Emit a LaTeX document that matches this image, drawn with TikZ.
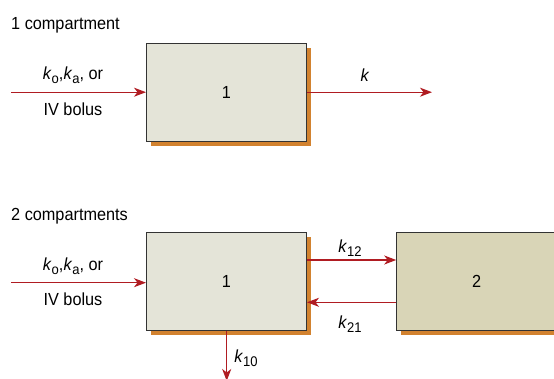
\documentclass[tikz,border=0pt]{standalone}
\usepackage{fontspec}
\setmainfont[FakeStretch=0.93]{Liberation Sans}
\usetikzlibrary{arrows.meta,shadows}
\definecolor{boxonecol}{HTML}{E4E4D8}
\definecolor{boxtwocol}{HTML}{D9D5B7}
\definecolor{shadowcol}{HTML}{D2822F}
\definecolor{arrowcol}{HTML}{B01C22}
\newcommand{\ksub}[1]{\textit{k}\raisebox{-0.45ex}{\fontsize{14}{16}\selectfont #1}}
\begin{document}
\begin{tikzpicture}[x=1pt,y=-1pt,
  font=\fontsize{17.5}{20}\selectfont,
  comp/.style={draw=black!80, line width=1pt, minimum width=160pt, minimum height=98pt, inner sep=0pt,
    drop shadow={shadow xshift=4.5pt, shadow yshift=-5pt, fill=shadowcol, opacity=1}},
  flow/.style={draw=arrowcol, line width=1.2pt, -{Stealth[length=12pt,width=9pt,inset=3.5pt]}},
  lbl/.style={inner sep=0pt}]
\clip (0,0) rectangle (554,379);
% 1 compartment
\node[lbl, anchor=base west] (t1) at (11,29.3) {1 compartment};
\node[comp, fill=boxonecol] (a1) at (226.5,92.2) {1};
\coordinate (ain) at (11,92.2);
\coordinate (aout) at (432,92.2);
\draw[flow] (ain) -- (a1.west);
\draw[flow] (a1.east) -- (aout);
\node[lbl] (al1) at (73,75.5) {\ksub{o},\ksub{a}, or};
\node[lbl] (al2) at (73,109) {IV bolus};
\node[lbl] (ak) at (365,75) {\textit{k}};
% 2 compartments
\node[lbl, anchor=base west] (t2) at (11,220.7) {2 compartments};
\node[comp, fill=boxonecol] (b1) at (226.5,281.2) {1};
\node[comp, fill=boxtwocol] (b2) at (476.7,281.3) {2};
\coordinate (bin) at (11,282.7);
\coordinate (bout) at (226.7,381);
\draw[flow] (bin) -- (bin -| b1.west);
\draw[flow] (b1.south -| bout) -- (bout);
\draw[flow] (b1.east |- 0,260) -- (b2.west |- 0,260);
\draw[flow] (b2.west |- 0,302.3) -- (b1.east |- 0,302.3);
\node[lbl] (bl1) at (73,266) {\ksub{o},\ksub{a}, or};
\node[lbl] (bl2) at (73,299) {IV bolus};
\node[lbl] (k12) at (350,248) {\ksub{12}};
\node[lbl] (k21) at (350,324) {\ksub{21}};
\node[lbl] (k10) at (246,358.5) {\ksub{10}};
\end{tikzpicture}
\end{document}
